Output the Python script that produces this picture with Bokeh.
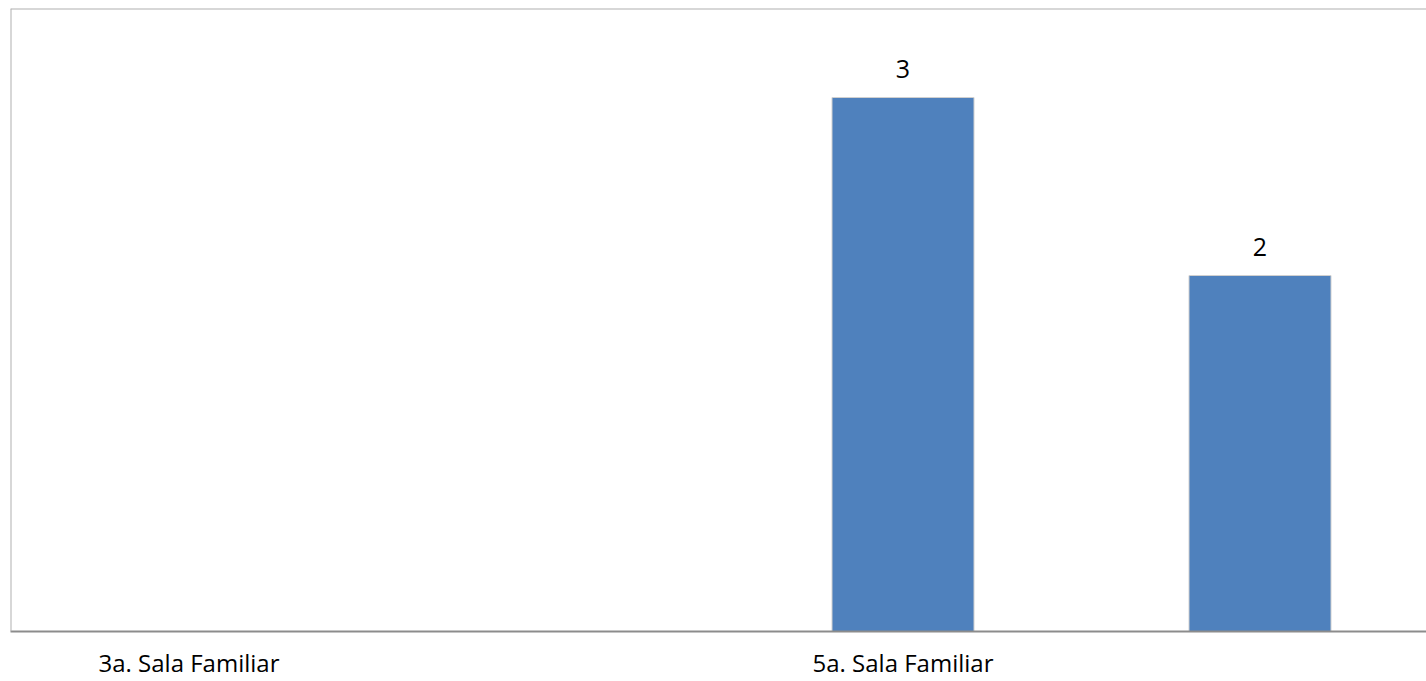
from bokeh.plotting import figure
from bokeh.models import Range1d, FixedTicker, Span, ColumnDataSource, LabelSet
from bokeh.core.properties import value
from bokeh.embed import file_html
from bokeh.resources import INLINE

# Data
categories = ["3a. Sala Familiar", "", "5a. Sala Familiar", ""]
values = [0, 0, 3, 2]
label_texts = ["", "", "3", "2"]

xs = list(range(1, len(categories) + 1))

W, H = 1426, 681
left_b, right_b, top_b, bottom_b = 10, 0, 8, 50
frame_w = W - left_b - right_b
cat_px = 357.0

p = figure(width=W, height=H, output_backend="svg", toolbar_location=None,
           x_range=Range1d(0.5, 0.5 + frame_w / cat_px), y_range=Range1d(0, 3.5),
           min_border_left=left_b, min_border_right=right_b,
           min_border_top=top_b, min_border_bottom=bottom_b)

src = ColumnDataSource(dict(x=xs, top=values, lab=label_texts))
p.vbar(x="x", top="top", width=142 / cat_px, source=src,
       fill_color="#4F81BD", line_color="#d0d0d0", line_width=1)

labels = LabelSet(x="x", y="top", text="lab", source=src, text_align="center",
                  text_baseline="alphabetic", y_offset=20,
                  text_font=value("Open Sans"), text_font_size=value("25px"),
                  text_color="#000000")
p.add_layout(labels)

p.outline_line_color = None
p.grid.visible = False
p.yaxis.visible = False
p.background_fill_color = "white"
p.border_fill_color = "white"

p.add_layout(Span(location=0.5, dimension="height", line_color="#b0b0b0", line_width=2))
p.add_layout(Span(location=3.5, dimension="width", line_color="#b0b0b0", line_width=2))

ax = p.xaxis[0]
ax.ticker = FixedTicker(ticks=[1, 3])
ax.major_label_overrides = {1: categories[0], 3: categories[2]}
ax.major_tick_line_color = None
ax.minor_tick_line_color = None
ax.axis_line_color = "#8c8c8c"
ax.axis_line_width = 2
ax.major_label_text_font = "Open Sans"
ax.major_label_text_font_size = "24px"
ax.major_label_text_color = "#000000"
ax.major_label_standoff = 8

open("out.html", "w").write(file_html(p, INLINE))
